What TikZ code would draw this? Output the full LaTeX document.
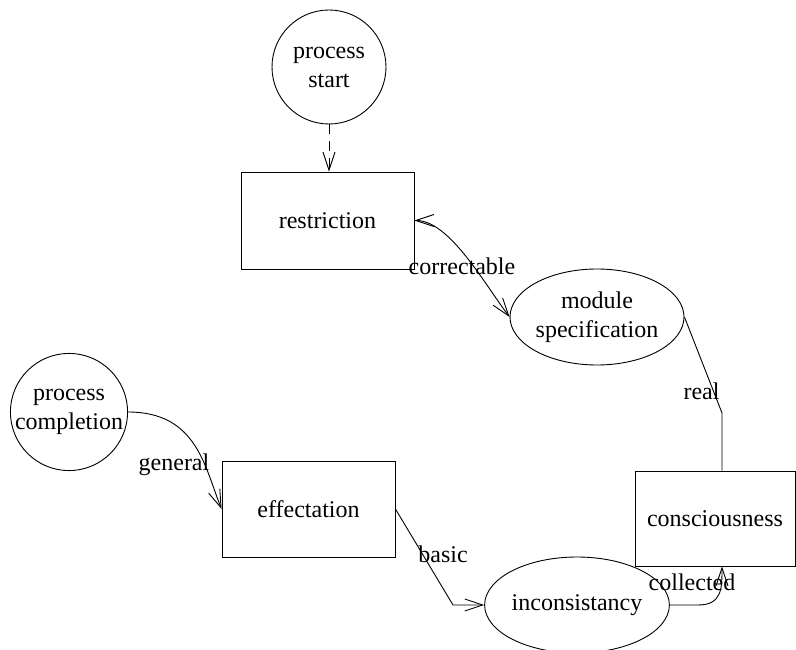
\documentclass[tikz,border=0pt]{standalone}
\usepackage{fontspec}
\setmainfont{Liberation Serif}
\usetikzlibrary{shapes.geometric,arrows.meta,calc}
\begin{document}
\begin{tikzpicture}[x=1pt,y=-1pt,
  every node/.style={font=\fontsize{24}{29}\selectfont, inner sep=0pt},
  circ/.style={draw, circle, minimum size=114pt, align=center, line width=0.9pt},
  boxnode/.style={draw, rectangle, line width=0.9pt},
  ell/.style={draw, ellipse, minimum width=174pt, minimum height=96pt, align=center, line width=0.9pt},
  conn/.style={line width=0.9pt},
  tip/.style={-{Straight Barb[length=18pt,width=12pt,line width=0.9pt]}},
  lbl/.style={anchor=base}
]
\useasboundingbox (0,0) rectangle (796,650);
\node[circ] (ps) at (329,67) {process\\start};
\node[boxnode, minimum width=173pt, minimum height=97pt] (res) at (327.5,220.5) {restriction};
\node[ell] (mod) at (597,317) {module\\specification};
\node[boxnode, minimum width=160pt, minimum height=95pt] (con) at (715,518.5) {consciousness};
\node[circ] (pc) at (69,412) {process\\completion};
\node[boxnode, minimum width=173pt, minimum height=96pt] (eff) at (308.5,509) {effectation};
\node[ell] (inc) at (577,605) {inconsistancy};

\coordinate (r1) at (722,413);
\coordinate (b1) at (453,605);
\coordinate (c1) at (698,605);

\draw[conn, tip, dash pattern=on 10pt off 7pt] (ps.south) -- (ps.south |- res.north);
\draw[conn, {Straight Barb[length=18pt,width=12pt,line width=0.9pt]}-{Straight Barb[length=18pt,width=12pt,line width=0.9pt]}]
  (res.east) .. controls ($(res.east)+(35,0)$) and ($(mod.west)+(-25,-33)$) .. (mod.west);
\node[lbl] (lc) at (462,274) {correctable};

\draw[conn] (mod.east) -- (r1) -- (r1 |- con.north);
\node[lbl] (lr) at (701.5,399) {real};

\draw[conn, tip] (pc.east) .. controls ($(pc.east)+(69,0)$) and ($(eff.west)+(-17,-42)$) .. (eff.west);
\node[lbl] (lg) at (174,470) {general};

\draw[conn, tip] (eff.east) -- (b1) -- (inc.west);
\node[lbl] (lb) at (443,562) {basic};

\draw[conn, tip] (inc.east) -- (c1) .. controls ($(c1)+(24,0)$) and ($(r1 |- con.south)+(0,22)$) .. (r1 |- con.south);
\node[lbl] (lco) at (692,590) {collected};
\end{tikzpicture}
\end{document}
